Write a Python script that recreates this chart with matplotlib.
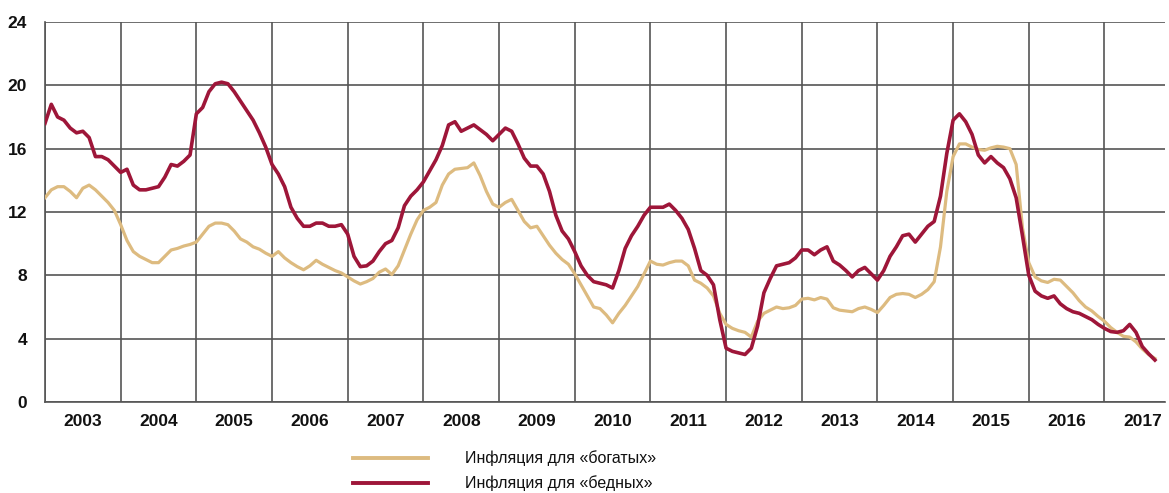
import numpy as np
import matplotlib
matplotlib.use("Agg")
import matplotlib.pyplot as plt
from matplotlib.lines import Line2D

# monthly values starting Jan 2003, % year on year
rich = [12.9, 13.4, 13.6, 13.6, 13.3, 12.9, 13.5, 13.7, 13.4, 13.0, 12.6, 12.1,
        11.2, 10.2, 9.5, 9.2, 9.0, 8.8, 8.8, 9.2, 9.6, 9.7, 9.85, 9.95,
        10.1, 10.6, 11.1, 11.3, 11.3, 11.2, 10.8, 10.3, 10.1, 9.8, 9.65, 9.4,
        9.2, 9.5, 9.1, 8.8, 8.55, 8.35, 8.6, 8.95, 8.7, 8.5, 8.3, 8.15,
        7.9, 7.65, 7.45, 7.6, 7.8, 8.2, 8.4, 8.05, 8.6, 9.6, 10.6, 11.5,
        12.1, 12.3, 12.6, 13.7, 14.4, 14.7, 14.75, 14.8, 15.1, 14.3, 13.3, 12.5,
        12.3, 12.6, 12.8, 12.1, 11.4, 11.0, 11.1, 10.5, 9.9, 9.4, 9.0, 8.7,
        8.1, 7.4, 6.7, 6.0, 5.9, 5.5, 5.0, 5.6, 6.1, 6.7, 7.3, 8.1,
        8.9, 8.7, 8.65, 8.8, 8.9, 8.9, 8.6, 7.7, 7.5, 7.2, 6.7, 5.6,
        4.9, 4.65, 4.5, 4.4, 4.1, 5.1, 5.6, 5.8, 6.0, 5.9, 5.95, 6.1,
        6.5, 6.55, 6.45, 6.6, 6.5, 5.95, 5.8, 5.75, 5.7, 5.9, 6.0, 5.85,
        5.65, 6.1, 6.6, 6.8, 6.85, 6.8, 6.6, 6.8, 7.1, 7.6, 9.8, 13.3,
        15.5, 16.3, 16.3, 16.1, 15.95, 15.9, 16.05, 16.15, 16.1, 16.0, 15.0, 11.0,
        8.8, 7.9, 7.65, 7.55, 7.75, 7.7, 7.3, 6.9, 6.4, 6.0, 5.75, 5.4,
        5.1, 4.7, 4.4, 4.15, 4.1, 3.8, 3.35, 3.0, 2.75]

poor = [17.6, 18.8, 18.0, 17.8, 17.3, 17.0, 17.1, 16.7, 15.5, 15.5, 15.3, 14.9,
        14.5, 14.7, 13.7, 13.4, 13.4, 13.5, 13.6, 14.2, 15.0, 14.9, 15.2, 15.6,
        18.2, 18.6, 19.6, 20.1, 20.2, 20.1, 19.6, 19.0, 18.4, 17.8, 17.0, 16.1,
        15.0, 14.4, 13.6, 12.3, 11.6, 11.1, 11.1, 11.3, 11.3, 11.1, 11.1, 11.2,
        10.6, 9.2, 8.55, 8.6, 8.9, 9.5, 10.0, 10.2, 11.0, 12.4, 13.0, 13.4,
        13.9, 14.6, 15.3, 16.2, 17.5, 17.7, 17.1, 17.3, 17.5, 17.2, 16.9, 16.5,
        16.9, 17.3, 17.1, 16.3, 15.4, 14.9, 14.9, 14.4, 13.3, 11.8, 10.8, 10.3,
        9.5, 8.6, 8.0, 7.6, 7.5, 7.4, 7.2, 8.3, 9.7, 10.5, 11.1, 11.8,
        12.3, 12.3, 12.3, 12.5, 12.1, 11.6, 10.9, 9.7, 8.3, 8.0, 7.4, 5.2,
        3.4, 3.2, 3.1, 3.0, 3.4, 4.8, 6.9, 7.8, 8.6, 8.7, 8.8, 9.1,
        9.6, 9.6, 9.3, 9.6, 9.8, 8.9, 8.65, 8.3, 7.9, 8.3, 8.5, 8.1,
        7.7, 8.3, 9.2, 9.8, 10.5, 10.6, 10.1, 10.6, 11.1, 11.4, 13.0, 15.7,
        17.8, 18.2, 17.7, 16.9, 15.6, 15.1, 15.5, 15.1, 14.8, 14.1, 12.9, 10.5,
        8.0, 7.0, 6.7, 6.55, 6.7, 6.2, 5.9, 5.7, 5.6, 5.4, 5.2, 4.9,
        4.65, 4.45, 4.4, 4.5, 4.9, 4.4, 3.5, 3.05, 2.65]

years = list(range(2003, 2018))
labels = ["Инфляция для «богатых»", "Инфляция для «бедных»"]

t = 2003 + np.arange(len(rich)) / 12.0

gold = "#DDBB80"
crimson = "#9E1639"
grid_c = "#555555"
font = ["Liberation Sans", "DejaVu Sans"]

fig = plt.figure(figsize=(11.69, 4.93), dpi=100)
ax = fig.add_axes([45 / 1169, (493 - 402) / 493, 1120 / 1169, 380 / 493])

ax.plot(t, rich, color=gold, lw=2.3, zorder=3, solid_joinstyle="round")
ax.plot(t, poor, color=crimson, lw=2.6, zorder=4, solid_joinstyle="round")

ax.set_xlim(2003, 2017.8)
ax.set_ylim(0, 24)
ax.set_yticks(range(0, 25, 4))
ax.set_xticks(years)
ax.set_xticklabels([])
ax.set_xticks([y + 0.5 for y in years], minor=True)
ax.set_xticklabels([str(y) for y in years], minor=True)
ax.tick_params(which="both", length=0)
ax.tick_params(axis="x", which="minor", pad=9)
ax.tick_params(axis="y", pad=13)
for lab in ax.get_xticklabels(minor=True) + ax.get_yticklabels():
    lab.set_family(font)
    lab.set_fontsize(12.5)
    lab.set_fontweight("bold")
    lab.set_color("#111111")

ax.grid(True, which="major", color=grid_c, lw=1.2)
for side in ["top", "right"]:
    ax.spines[side].set_visible(False)
for side in ["left", "bottom"]:
    ax.spines[side].set_color(grid_c)
    ax.spines[side].set_linewidth(1.2)

# legend drawn by hand under the plot
for y_px, c, lab in [(458, gold, labels[0]), (483, crimson, labels[1])]:
    yf = 1 - y_px / 493
    fig.add_artist(Line2D([353 / 1169, 428 / 1169], [yf, yf], color=c, lw=2.8,
                          transform=fig.transFigure))
    fig.text(465 / 1169, yf, lab, family=font, fontsize=11.5, va="center",
             ha="left", color="#111111")

fig.savefig("out.png", dpi=100)
